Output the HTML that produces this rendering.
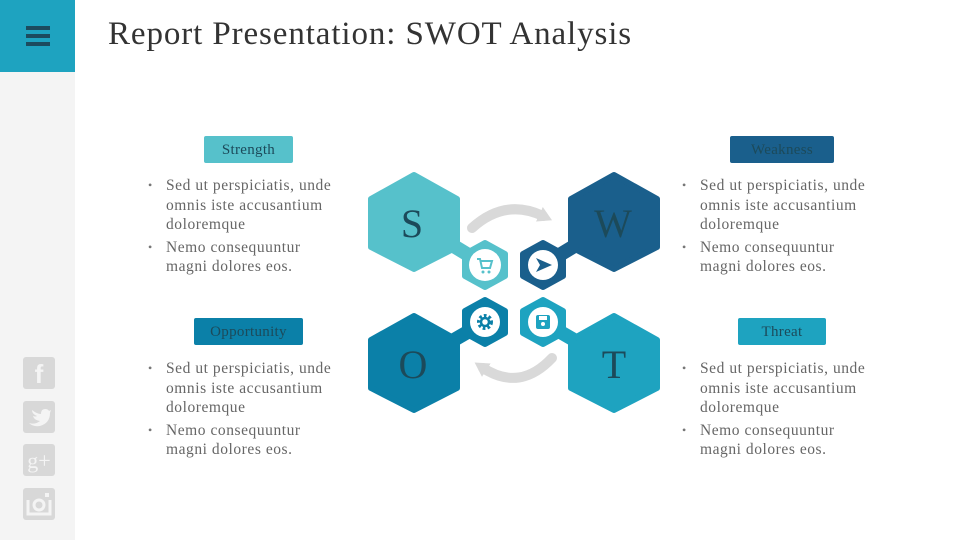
<!DOCTYPE html>
<html><head><meta charset="utf-8"><style>
body{margin:0;width:960px;height:540px;position:relative;background:#fff;overflow:hidden;font-family:"Liberation Serif",serif}
.side{position:absolute;left:0;top:0;width:75px;height:540px;background:#f4f4f4}
.menu{position:absolute;left:0;top:0;width:75px;height:72px;background:#1ea3c0}
.menu i{position:absolute;left:26px;width:24px;height:4px;background:#1c4b5e}
h1{position:absolute;left:108px;top:16px;margin:0;font-weight:normal;font-size:33px;letter-spacing:0.9px;color:#333;white-space:nowrap}
.lab{position:absolute;height:27px;line-height:28px;text-align:center;font-size:15px;color:#1c4a5a;border-radius:2px;letter-spacing:0.3px}
.txt{position:absolute;width:195px;font-size:15.5px;line-height:19.5px;color:#666;letter-spacing:0.55px}
.txt div{position:relative;padding-left:18px;margin-bottom:3px}
.txt div:before{content:"•";position:absolute;left:0;font-size:12px;color:#777}
.soc{position:absolute;left:23px;width:32px;height:32px;background:#d8d8d8;border-radius:3px;color:#f4f4f4;font-family:"Liberation Sans",sans-serif;font-weight:bold;text-align:center;line-height:34px;font-size:26px}
</style></head><body>
<div class="side"></div>
<div class="menu"><i style="top:26px"></i><i style="top:34px"></i><i style="top:42px"></i></div>
<h1>Report Presentation: SWOT Analysis</h1>

<div class="lab" style="left:204px;top:136px;width:89px;background:#56c1cb">Strength</div>
<div class="lab" style="left:730px;top:136px;width:104px;background:#1a5f8c">Weakness</div>
<div class="lab" style="left:194px;top:318px;width:109px;background:#0b80a8">Opportunity</div>
<div class="lab" style="left:738px;top:318px;width:88px;background:#1ea3c0">Threat</div>

<div class="txt" style="left:148px;top:176px"><div>Sed ut perspiciatis, unde omnis iste accusantium doloremque</div><div>Nemo consequuntur magni dolores eos.</div></div>
<div class="txt" style="left:682px;top:176px"><div>Sed ut perspiciatis, unde omnis iste accusantium doloremque</div><div>Nemo consequuntur magni dolores eos.</div></div>
<div class="txt" style="left:148px;top:359px"><div>Sed ut perspiciatis, unde omnis iste accusantium doloremque</div><div>Nemo consequuntur magni dolores eos.</div></div>
<div class="txt" style="left:682px;top:359px"><div>Sed ut perspiciatis, unde omnis iste accusantium doloremque</div><div>Nemo consequuntur magni dolores eos.</div></div>

<div class="soc" style="top:357px">f</div>
<div class="soc" style="top:401px"><svg width="32" height="32"><path d="M6,22 Q12,24 17,20 Q11,19 10,15 Q13,16 14,15 Q9,13 9,9 Q14,13 18,13 Q18,8 22,8 Q25,8 26,10 L28,9 L27,12 Q27,22 17,25 Q10,26 6,22z" fill="#f4f4f4"/></svg></div>
<div class="soc" style="top:444px;font-size:22px;font-family:'Liberation Serif',serif;font-weight:normal">g+</div>
<div class="soc" style="top:488px"><svg width="32" height="32"><path d="M5,12 V26 H27 V12" fill="none" stroke="#f4f4f4" stroke-width="3"/><circle cx="16" cy="17" r="5" fill="none" stroke="#f4f4f4" stroke-width="3"/><rect x="22" y="5" width="4" height="4" fill="#f4f4f4"/></svg></div>

<svg style="position:absolute;left:0;top:0" width="960" height="540">
<defs>
<marker id="a" markerUnits="userSpaceOnUse" markerWidth="20" markerHeight="20" refX="4" refY="10" orient="auto"><path d="M0,2L14,10L0,18z" fill="#d9d9d9"/></marker>
</defs>
<path d="M472,228 Q505,198 543,216" fill="none" stroke="#d9d9d9" stroke-width="10" stroke-linecap="round" marker-end="url(#a)"/>
<path d="M552,358 Q520,392 483,368" fill="none" stroke="#d9d9d9" stroke-width="10" stroke-linecap="round" marker-end="url(#a)"/>
<g stroke-linejoin="round" stroke-width="6">
<line x1="414" y1="222" x2="485" y2="265" stroke="#56c1cb" stroke-width="14"/>
<line x1="614" y1="222" x2="543" y2="265" stroke="#1a5f8c" stroke-width="14"/>
<line x1="414" y1="363" x2="485" y2="322" stroke="#0b80a8" stroke-width="14"/>
<line x1="614" y1="363" x2="543" y2="322" stroke="#1ea3c0" stroke-width="14"/>
<polygon points="414,175 457,199 457,247 414,269 371,247 371,199" fill="#56c1cb" stroke="#56c1cb"/>
<polygon points="614,175 657,199 657,247 614,269 571,247 571,199" fill="#1a5f8c" stroke="#1a5f8c"/>
<polygon points="414,316 457,340 457,388 414,410 371,388 371,340" fill="#0b80a8" stroke="#0b80a8"/>
<polygon points="614,316 657,340 657,388 614,410 571,388 571,340" fill="#1ea3c0" stroke="#1ea3c0"/>
<polygon points="485,243 505,254 505,276 485,287 465,276 465,254" fill="#56c1cb" stroke="#56c1cb"/>
<polygon points="543,243 563,254 563,276 543,287 523,276 523,254" fill="#1a5f8c" stroke="#1a5f8c"/>
<polygon points="485,300 505,311 505,333 485,344 465,333 465,311" fill="#0b80a8" stroke="#0b80a8"/>
<polygon points="543,300 563,311 563,333 543,344 523,333 523,311" fill="#1ea3c0" stroke="#1ea3c0"/>
</g>
<circle cx="485" cy="265" r="16" fill="#fff"/>
<circle cx="543" cy="265" r="15" fill="#fff"/>
<circle cx="485" cy="322" r="15" fill="#fff"/>
<circle cx="543" cy="322" r="15" fill="#fff"/>
<path d="M477,259h3l2,9h8l2,-7h-11" fill="none" stroke="#56c1cb" stroke-width="2"/><circle cx="483" cy="272" r="1.5" fill="#56c1cb"/><circle cx="489" cy="272" r="1.5" fill="#56c1cb"/>
<path d="M536,258L552,265L536,272L540,265z" fill="#1a5f8c"/>
<circle cx="485" cy="322" r="6" fill="none" stroke="#0b80a8" stroke-width="4" stroke-dasharray="2.5 2"/><circle cx="485" cy="322" r="4" fill="none" stroke="#0b80a8" stroke-width="2.5"/>
<rect x="536" y="315" width="14" height="14" rx="2" fill="#1ea3c0"/><rect x="539" y="316" width="8" height="4" fill="#fff"/><circle cx="543" cy="324" r="2" fill="#fff"/>
<g font-family="Liberation Serif,serif" font-size="40" fill="#1c4a5a" text-anchor="middle">
<text x="412" y="237">S</text><text x="613" y="237">W</text><text x="413" y="378">O</text><text x="614" y="378">T</text>
</g>
</svg>
</body></html>
